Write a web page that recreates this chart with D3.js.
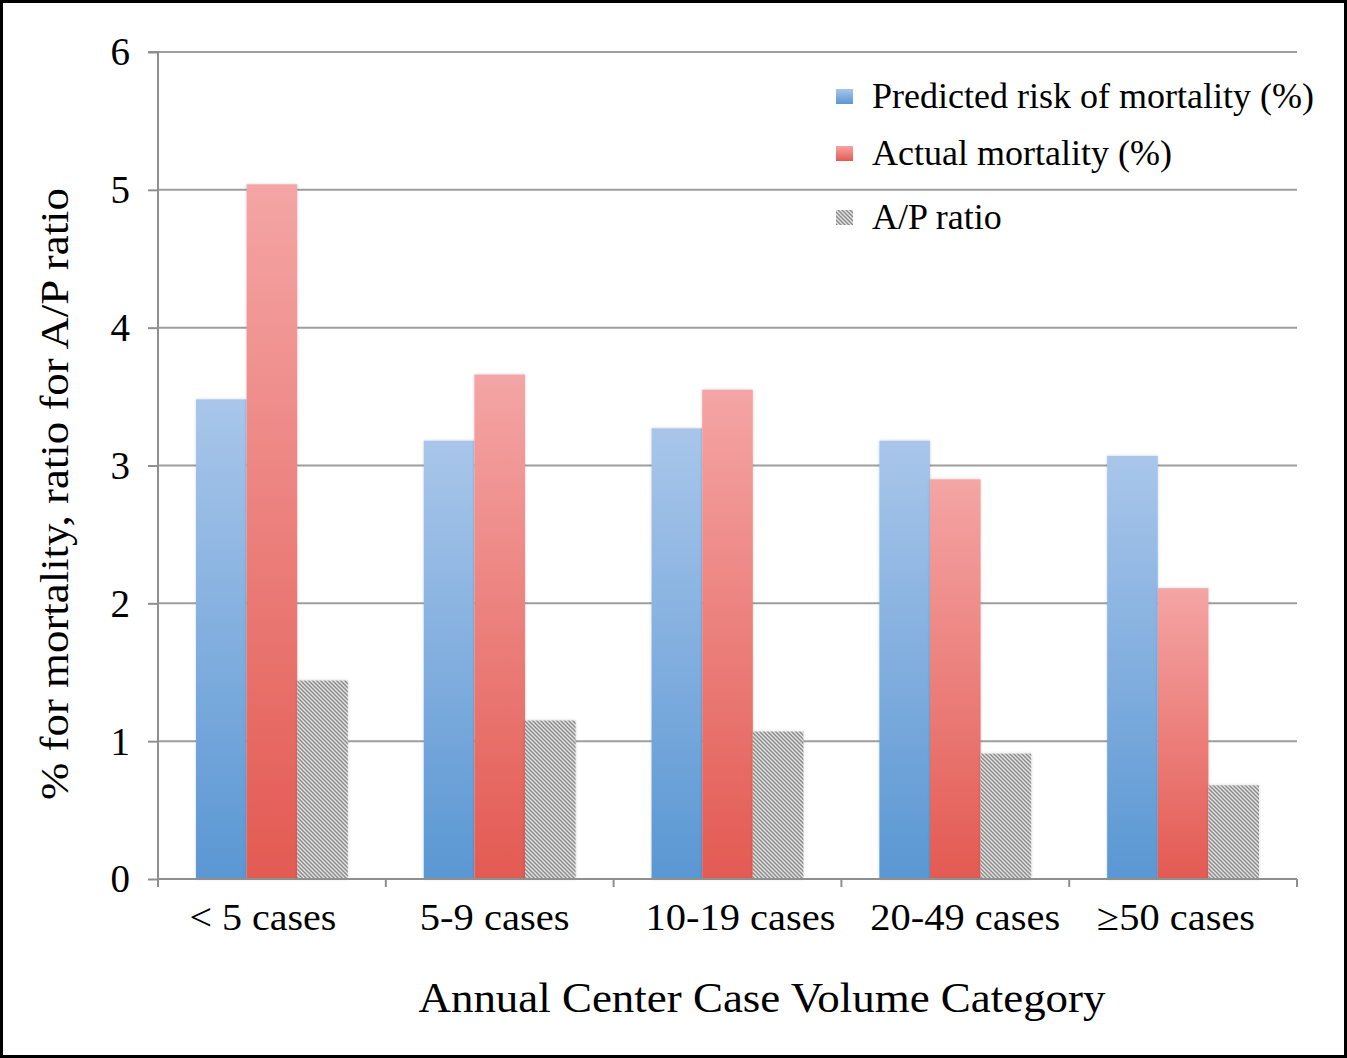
<!DOCTYPE html>
<html><head><meta charset="utf-8">
<script src="https://cdn.jsdelivr.net/npm/d3@7"></script>
<style>
html,body{margin:0;padding:0;background:#fff;}
svg{display:block;}
text{font-family:"Liberation Serif","Times New Roman",serif;fill:#000;}
</style></head>
<body>
<svg id="chart" width="1347" height="1058"></svg>
<script>
const categories = ["< 5 cases", "5-9 cases", "10-19 cases", "20-49 cases", "\u226550 cases"];
const predicted = [3.48, 3.18, 3.27, 3.18, 3.07];
const actual = [5.04, 3.66, 3.55, 2.90, 2.11];
const apRatio = [1.44, 1.15, 1.07, 0.91, 0.68];
const seriesNames = ["Predicted risk of mortality (%)", "Actual mortality (%)", "A/P ratio"];
const yTicks = [0, 1, 2, 3, 4, 5, 6];
const categoryLabelWidths = [147, 150, 190, 190, 158];
const categoryLabelShift = [-9, -5, 13, 10, -7];

const svg = d3.select("#chart");
const W = 1347, H = 1058;
const m = {left: 158, right: 1297, top: 52, bottom: 879};

// defs
const defs = svg.append("defs");
function vgrad(id, top, bottom) {
  const g = defs.append("linearGradient").attr("id", id).attr("x1", 0).attr("y1", 0).attr("x2", 0).attr("y2", 1);
  g.append("stop").attr("offset", "0%").attr("stop-color", top);
  g.append("stop").attr("offset", "100%").attr("stop-color", bottom);
}
vgrad("gBlue", "#a9c6ea", "#5a97d3");
vgrad("gRed", "#f4a5a5", "#e35a52");
const pat = defs.append("pattern").attr("id", "hatch").attr("patternUnits", "userSpaceOnUse")
  .attr("width", 4).attr("height", 4);
pat.append("rect").attr("width", 4).attr("height", 4).attr("fill", "#e6e6e6");
pat.append("path").attr("d", "M0,0 L4,4 M-1,3 L1,5 M3,-1 L5,1").attr("stroke", "#8a8a8a").attr("stroke-width", 1.5);
const f = defs.append("filter").attr("id", "shadow").attr("x", "-10%").attr("y", "-5%").attr("width", "120%").attr("height", "110%");
f.append("feDropShadow").attr("dx", 0).attr("dy", 0).attr("stdDeviation", 1.5).attr("flood-color", "#000").attr("flood-opacity", 0.18);

const fills = ["url(#gBlue)", "url(#gRed)", "url(#hatch)"];

// frame
svg.append("rect").attr("x", 1.5).attr("y", 1.5).attr("width", W - 3).attr("height", H - 3)
  .attr("fill", "#fff").attr("stroke", "#000").attr("stroke-width", 3);

const x0 = d3.scaleBand().domain(categories).range([m.left, m.right]).paddingInner(1/3).paddingOuter(1/6);
const x1 = d3.scaleBand().domain([0, 1, 2]).range([0, x0.bandwidth()]);
const y = d3.scaleLinear().domain([0, 6]).range([m.bottom, m.top]);

// gridlines
svg.append("g").selectAll("line").data(yTicks.filter(d => d > 0)).join("line")
  .attr("x1", m.left).attr("x2", m.right)
  .attr("y1", d => y(d)).attr("y2", d => y(d))
  .attr("stroke", "#9e9e9e").attr("stroke-width", 2);

// bars
const data = categories.map((c, i) => ({c, vals: [predicted[i], actual[i], apRatio[i]]}));
const gBars = svg.append("g");
data.forEach(d => {
  d.vals.forEach((v, k) => {
    gBars.append("rect")
      .attr("x", x0(d.c) + x1(k))
      .attr("y", y(v))
      .attr("width", x1.bandwidth())
      .attr("height", y(0) - y(v))
      .attr("fill", fills[k])
      .attr("filter", "url(#shadow)");
  });
});

// y axis
const yAxis = d3.axisLeft(y).tickValues(yTicks).tickSize(10).tickPadding(18).tickFormat(d3.format("d"));
const gy = svg.append("g").attr("transform", `translate(${m.left},0)`).call(yAxis);
gy.select(".domain").attr("stroke", "#8f8f8f").attr("stroke-width", 2).attr("d", `M-10,${m.top}H0V${m.bottom + 7}`);
gy.selectAll(".tick line").attr("stroke", "#8f8f8f").attr("stroke-width", 2);
gy.selectAll(".tick text").attr("font-size", 39).attr("font-family", "Liberation Serif").attr("dy", "0.33em");

// x axis baseline + ticks at boundaries
const step = x0.step();
const boundaries = d3.range(categories.length + 1).map(i => m.left + i * step);
svg.append("line").attr("x1", m.left).attr("x2", m.right).attr("y1", y(0)).attr("y2", y(0))
  .attr("stroke", "#8f8f8f").attr("stroke-width", 2);
svg.append("g").selectAll("line").data(boundaries).join("line")
  .attr("x1", d => d).attr("x2", d => d).attr("y1", y(0)).attr("y2", y(0) + 8)
  .attr("stroke", "#8f8f8f").attr("stroke-width", 2);

// x labels
svg.append("g").selectAll("text").data(categories).join("text")
  .attr("x", (d, i) => x0(d) + x0.bandwidth() / 2 + categoryLabelShift[i])
  .attr("y", 930)
  .attr("text-anchor", "middle")
  .attr("font-size", 38)
  .attr("textLength", (d, i) => categoryLabelWidths[i])
  .attr("lengthAdjust", "spacingAndGlyphs")
  .text(d => d);

// axis titles
svg.append("text").attr("x", 762).attr("y", 1012).attr("text-anchor", "middle")
  .attr("font-size", 42).attr("textLength", 687).attr("lengthAdjust", "spacingAndGlyphs")
  .text("Annual Center Case Volume Category");
svg.append("text").attr("transform", "translate(68,494) rotate(-90)").attr("text-anchor", "middle")
  .attr("font-size", 40).attr("textLength", 612).attr("lengthAdjust", "spacingAndGlyphs")
  .text("% for mortality, ratio for A/P ratio");

// legend
const legY = [96, 153, 217];
const lg = svg.append("g");
seriesNames.forEach((n, k) => {
  lg.append("rect").attr("x", 836).attr("y", legY[k] - 7).attr("width", 17).attr("height", 15).attr("fill", fills[k]);
  lg.append("text").attr("x", 872).attr("y", legY[k] + 12).attr("font-size", 36).text(n);
});
</script>
</body></html>
